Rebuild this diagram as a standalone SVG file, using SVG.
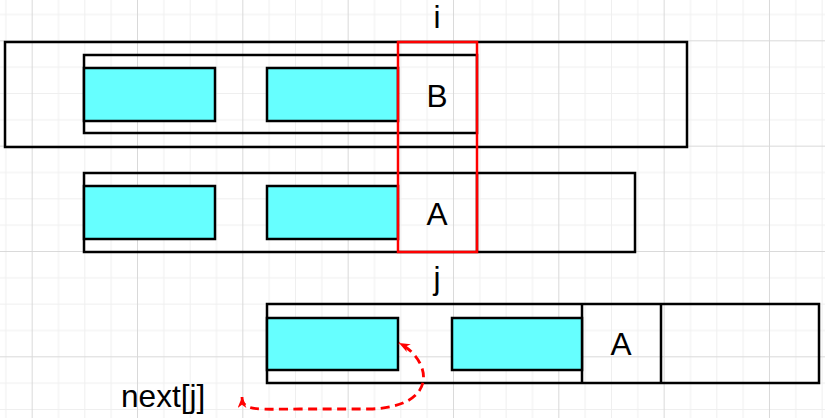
<svg xmlns="http://www.w3.org/2000/svg" width="825" height="418" viewBox="0 0 825 418">
  <style>
    .box { fill: none; stroke: #000; stroke-width: 2.5; }
    .cell { fill: #66ffff; stroke: #000; stroke-width: 2.5; }
    .sel { fill: none; stroke: #ff0000; stroke-width: 2.5; }
    .lbl { font-family: "Liberation Sans", Arial, sans-serif; font-size: 31.6px; fill: #000; }
    .mid { text-anchor: middle; }
    .link { fill: none; stroke: #ff0000; stroke-width: 2.8; stroke-dasharray: 9 5.5; }
  </style>
  <defs>
    <pattern id="grid" patternUnits="userSpaceOnUse" x="31.67" y="40.33" width="105.33" height="105.33">
      <rect x="26.33" y="0" width="1" height="105.33" fill="#efefef"/>
      <rect x="52.67" y="0" width="1" height="105.33" fill="#efefef"/>
      <rect x="79" y="0" width="1" height="105.33" fill="#efefef"/>
      <rect x="0" y="26.33" width="105.33" height="1" fill="#efefef"/>
      <rect x="0" y="52.67" width="105.33" height="1" fill="#efefef"/>
      <rect x="0" y="79" width="105.33" height="1" fill="#efefef"/>
      <rect x="0" y="0" width="1" height="105.33" fill="#d9d9d9"/>
      <rect x="0" y="0" width="105.33" height="1" fill="#d9d9d9"/>
    </pattern>
    <marker id="arr" viewBox="0 0 10 8" refX="10" refY="4" markerWidth="11" markerHeight="9" markerUnits="userSpaceOnUse" orient="auto-start-reverse">
      <path d="M0,0 L10,4 L0,8 L3,4 z" fill="#ff0000"/>
    </marker>
  </defs>
  <rect width="825" height="418" fill="#fff"/>
  <rect width="825" height="418" fill="url(#grid)"/>

  <g id="row1">
    <rect class="box" x="5" y="42" width="682" height="105"/>
    <rect class="box" x="84" y="55" width="393" height="78"/>
    <rect class="cell" x="84" y="68" width="131" height="53"/>
    <rect class="cell" x="267" y="68" width="131" height="53"/>
    <text class="lbl mid" x="437" y="107">B</text>
  </g>

  <g id="row2">
    <rect class="box" x="84" y="173" width="551" height="79"/>
    <line class="box" x1="477" y1="173" x2="477" y2="252"/>
    <rect class="cell" x="84" y="186" width="131" height="53"/>
    <rect class="cell" x="267" y="186" width="131" height="53"/>
    <text class="lbl mid" x="437" y="225">A</text>
  </g>

  <g id="row3">
    <rect class="box" x="267" y="304" width="552" height="79"/>
    <line class="box" x1="582" y1="304" x2="582" y2="383"/>
    <line class="box" x1="661" y1="304" x2="661" y2="383"/>
    <rect class="cell" x="267" y="318" width="131" height="52"/>
    <rect class="cell" x="452" y="318" width="130" height="52"/>
    <text class="lbl mid" x="621" y="355">A</text>
  </g>

  <g id="highlight">
    <rect class="sel" x="398" y="42" width="79" height="210"/>
  </g>

  <g id="labels">
    <text class="lbl mid" x="437" y="28">i</text>
    <text class="lbl mid" x="437" y="289">j</text>
    <text class="lbl" x="121" y="407">next[j]</text>
  </g>

  <g id="connectors">
    <path class="link" d="M242,397 C242,412 260,409 300,409 L370,409 C440,407 432,360 399,343" marker-start="url(#arr)" marker-end="url(#arr)"/>
  </g>
</svg>
